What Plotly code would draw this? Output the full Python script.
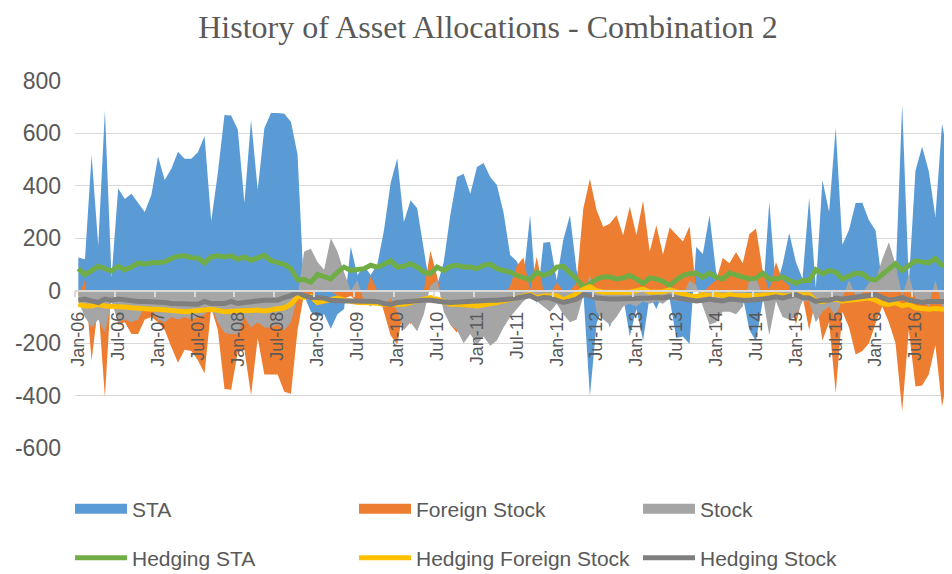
import plotly.graph_objects as go

# Monthly observations Jan-06 .. Dec-16 (132 months)
sta = [127, 120, 518, 172, 688, 50, 390, 350, 370, 335,
       300, 366, 512, 422, 465, 530, 503, 503, 528, 590,
       265, 450, 670, 668, 615, 336, 652, 385, 620, 678,
       678, 675, 645, 520, -20, -80, -100, -90, -145, -90,
       -70, 168, 60, 95, 60, 100, 230, 410, 505, 262,
       345, 315, 150, 0, 20, 110, 290, 434, 446, 370,
       472, 487, 434, 403, 298, 136, 112, 50, 288, -52,
       183, 186, 40, 195, 288, 77, 0, -403, -125, -60,
       -140, -60, -20, -175, -70, -190, -20, -70, -10, -30,
       -180, -175, -203, 167, 140, 288, 70, 10, 0, 0,
       -20, -150, -193, -40, 340, 10, 100, 220, 110, 45,
       355, 10, 422, 300, 622, 175, 233, 335, 336, 269,
       230, 20, 50, 40, 710, 30, 458, 549, 457, 281,
       637, 505]

foreign_stock = [-20, 40, -267, -50, -406, 20, -130, -120, -165, -165,
                 -110, -100, -120, -150, -215, -275, -225, -230, -265, -315,
                 -65, -150, -375, -378, -235, -225, -400, -180, -320, -320,
                 -320, -385, -393, -150, -10, -20, 0, 40, 0, -20,
                 -30, -20, -40, -30, 55, 0, -80, -170, -205, -60,
                 -130, -20, 0, 152, 55, -60, -130, -160, -80, -40,
                 -30, -40, -60, -40, -20, 20, 95, 127, 0, 130,
                 0, -10, 30, 0, 0, 30, 313, 427, 308, 243,
                 256, 288, 212, 320, 213, 343, 150, 250, 138, 241,
                 215, 188, 246, 0, -10, 20, 40, 125, 105, 147,
                 105, 215, 237, 77, 0, 110, 40, 20, -130, -20,
                 -150, -30, -190, -120, -390, -80, -140, -243, -230, -200,
                 -125, -60, -120, -200, -460, -150, -365, -362, -320, -208,
                 -442, -305]

stock = [-40, -100, -140, -110, -160, -40, -120, -110, -120, -110,
         -60, -70, -110, -120, -100, -110, -100, -110, -100, -90,
         -60, -120, -160, -165, -165, -100, -140, -120, -140, -140,
         -130, -150, -120, -20, 150, 160, 110, 80, 200, 150,
         70, 0, 40, -40, -60, -30, -60, -30, -80, -150,
         -120, -155, -90, 20, 40, -80, -130, -150, -200, -165,
         -205, -175, -210, -190, -140, -100, -70, -40, -20, -40,
         -60, -80, -50, -90, -120, -110, -20, 60, -80, -110,
         -130, -100, -60, -50, -60, -40, -50, -40, -50, -30,
         -40, -20, 40, 20, -60, -130, -120, -80, -80, -90,
         -60, 40, 50, -20, -170, -40, -100, -110, -100, -40,
         -40, -120, -80, -60, -100, -30, 40, -20, -10, 30,
         40, 120, 185, 100, -20, 60, -30, -40, -60, 40,
         -60, -70]

hedging_sta = [84, 61, 77, 93, 84, 75, 93, 80, 90, 106,
               101, 107, 107, 110, 123, 132, 133, 126, 125, 106,
               129, 133, 129, 133, 120, 129, 116, 125, 135, 114,
               106, 101, 84, 42, 43, 32, 62, 52, 45, 71,
               90, 77, 80, 84, 97, 90, 101, 114, 90, 93,
               103, 90, 71, 65, 90, 77, 93, 97, 90, 90,
               84, 97, 101, 84, 77, 71, 58, 50, 42, 70,
               58, 67, 90, 93, 71, 45, 13, 26, 45, 52,
               52, 45, 49, 58, 45, 28, 49, 45, 36, 19,
               41, 58, 65, 67, 52, 67, 52, 45, 67, 58,
               52, 45, 48, 67, 45, 45, 52, 39, 28, 39,
               39, 80, 65, 77, 71, 45, 58, 67, 65, 45,
               41, 62, 84, 103, 77, 93, 114, 110, 106, 123,
               97, 103]

hedging_foreign_stock = [-52, -58, -58, -52, -58, -58, -62, -62, -65, -68,
                         -71, -71, -71, -74, -77, -78, -80, -78, -77, -74,
                         -71, -75, -80, -78, -77, -74, -71, -74, -77, -74,
                         -71, -65, -52, -22, -25, -22, -45, -38, -32, -28,
                         -35, -40, -45, -45, -45, -48, -52, -52, -52, -52,
                         -45, -39, -32, -26, -32, -40, -52, -52, -52, -55,
                         -58, -55, -52, -45, -39, -32, -26, -19, -15, -26,
                         -20, -19, -19, -36, -26, -13, 6, 15, 0, -6,
                         -6, -6, -10, -6, 0, 6, -6, -6, -4, 3,
                         -6, -13, -19, -23, -15, -19, -15, -19, -15, -19,
                         -18, -18, -18, -15, -18, -15, -18, -19, -15, -13,
                         -15, -39, -41, -36, -32, -39, -36, -32, -32, -28,
                         -36, -49, -52, -45, -58, -52, -65, -68, -71, -68,
                         -71, -68]

hedging_stock = [-36, -32, -39, -45, -32, -36, -32, -36, -41, -41,
                 -41, -41, -41, -45, -49, -49, -49, -50, -52, -41,
                 -49, -49, -49, -41, -49, -45, -41, -39, -36, -36,
                 -36, -26, -19, -6, -19, -26, -26, -28, -36, -39,
                 -39, -39, -39, -41, -41, -41, -49, -52, -45, -42,
                 -41, -39, -36, -36, -41, -43, -45, -43, -41, -41,
                 -41, -39, -36, -36, -36, -32, -28, -23, -19, -32,
                 -26, -28, -39, -45, -39, -32, -15, -19, -28, -32,
                 -32, -32, -32, -32, -28, -32, -28, -26, -28, -23,
                 -28, -32, -36, -39, -36, -32, -36, -39, -32, -36,
                 -36, -36, -36, -32, -28, -23, -28, -19, -15, -26,
                 -28, -41, -36, -36, -28, -32, -28, -23, -19, -15,
                 -15, -26, -36, -32, -26, -36, -39, -45, -41, -41,
                 -45, -41]

tick_labels = ["Jan-06", "Jul-06", "Jan-07", "Jul-07", "Jan-08", "Jul-08",
               "Jan-09", "Jul-09", "Jan-10", "Jul-10", "Jan-11", "Jul-11",
               "Jan-12", "Jul-12", "Jan-13", "Jul-13", "Jan-14", "Jul-14",
               "Jan-15", "Jul-15", "Jan-16", "Jul-16"]
label_step = 6
y_ticks = [-600, -400, -200, 0, 200, 400, 600, 800]
y_tick_labels = ["-600", "-400", "-200", "0", "200", "400", "600", "800"]

months = list(range(len(sta)))
tick_idx = [k * label_step for k in range(len(tick_labels))]

TXT = "#595959"
areas = [("STA", sta, "#5B9BD5"),
         ("Foreign Stock", foreign_stock, "#ED7D31"),
         ("Stock", stock, "#A5A5A5")]
lines = [("Hedging STA", hedging_sta, "#70AD47"),
         ("Hedging Foreign Stock", hedging_foreign_stock, "#FFC000"),
         ("Hedging Stock", hedging_stock, "#7F7F7F")]

fig = go.Figure()
for name, vals, col in areas:
    fig.add_trace(go.Scatter(x=months, y=vals, mode="lines", fill="tozeroy",
                             fillcolor=col, line=dict(width=0, color=col),
                             name=name, showlegend=False, hoverinfo="skip"))
for name, vals, col in lines:
    fig.add_trace(go.Scatter(x=months, y=vals, mode="lines", name=name,
                             line=dict(color=col, width=5),
                             legend="legend2"))
# legend swatches for the area series
for name, vals, col in areas:
    fig.add_trace(go.Scatter(x=[None], y=[None], mode="lines", name=name,
                             line=dict(color=col, width=14), legend="legend"))

# page body has an 8px margin: figure is sized to fit the window
W, H = 944, 566
ML, MR, MT, MB = 67, 0, 73, 126
plot_h = H - MT - MB

leg_common = dict(orientation="h", xref="paper", yref="paper",
                  x=-5 / (W - ML - MR), xanchor="left", yanchor="middle",
                  font=dict(family="Liberation Sans", size=21, color=TXT),
                  itemwidth=52, entrywidth=217, entrywidthmode="pixels",
                  bgcolor="rgba(0,0,0,0)", traceorder="normal")

fig.update_layout(
    width=W, height=H,
    margin=dict(l=ML, r=MR, t=MT, b=MB, autoexpand=False),
    paper_bgcolor="white", plot_bgcolor="white",
    title=dict(text="History of Asset Allocations - Combination 2",
               font=dict(family="Liberation Serif", size=32, color=TXT),
               x=480 / W, xref="container", xanchor="center",
               y=1 - 19 / H, yref="container", yanchor="middle"),
    legend=dict(y=(H - MB - 501) / plot_h, **leg_common),
    legend2=dict(y=(H - MB - 550) / plot_h, **leg_common),
    xaxis=dict(range=[-0.5, len(sta) - 0.5], anchor="free",
               position=600 / 1400, tickmode="array", tickvals=tick_idx,
               ticktext=tick_labels, tickangle=-90, ticks="",
               tickfont=dict(family="Liberation Sans", size=18, color=TXT),
               showgrid=False, zeroline=False, showline=True,
               linecolor="#D9D9D9", linewidth=1.5, layer="above traces",
               ticklabelstandoff=13,
               minor=dict(tickvals=[t - 0.5 for t in tick_idx],
                          ticks="outside", ticklen=6, tickcolor="#D9D9D9",
                          tickwidth=1.5, showgrid=False)),
    yaxis=dict(range=[-600, 800], tickmode="array", tickvals=y_ticks,
               ticktext=y_tick_labels,
               showgrid=True, gridcolor="#D9D9D9", gridwidth=1,
               zeroline=False, showline=False, ticks="",
               tickfont=dict(family="Liberation Sans", size=23, color=TXT),
               ticklabelstandoff=13),
)

fig.write_html("out.html")
